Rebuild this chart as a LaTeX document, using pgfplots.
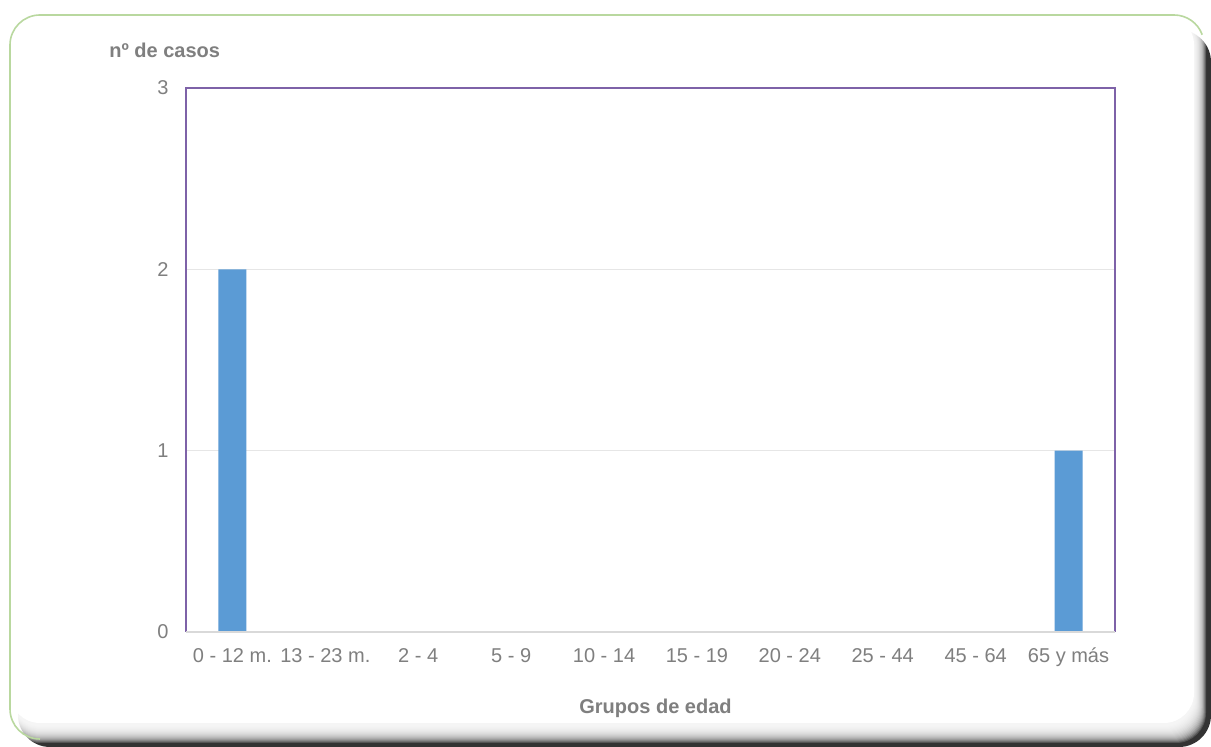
\documentclass[border=0pt]{standalone}
\usepackage{fontspec}
\setmainfont{Liberation Sans}
\usepackage{pgfplots}
\pgfplotsset{compat=1.18}

\definecolor{barblue}{HTML}{5B9BD5}
\definecolor{txtgray}{HTML}{7F7F7F}
\definecolor{framepurple}{HTML}{7E62A8}
\definecolor{gridgray}{HTML}{E6E6E6}
\definecolor{basegray}{HTML}{D9D9D9}
\definecolor{cardgreen}{HTML}{B9D89F}
\definecolor{shadowdark}{HTML}{333333}

\begin{document}
\begin{tikzpicture}
  \useasboundingbox (0,0) rectangle (605.5pt,373.5pt);
  \fill[white] (0,0) rectangle (605.5pt,373.5pt);

  % card with a soft dark shadow along its right and bottom edges
  \begin{scope}[x=0.5pt,y=0.5pt]
    \fill[shadowdark, rounded corners=16pt] (18,0) rectangle (1211,717);
    \foreach \k in {0,...,17}{
      \fill[white, opacity=0.17, rounded corners=15pt]
        (10,4+1.0*\k) rectangle (1206-0.7*\k,732);
    }
    \fill[white, rounded corners=15pt] (10,24) rectangle (1194,732);
    \draw[cardgreen, line width=0.8pt]
      (40,8) arc[start angle=270, end angle=180, radius=30]
      -- (10,702) arc[start angle=180, end angle=90, radius=30]
      -- (1174,732) arc[start angle=90, end angle=20, radius=30];
  \end{scope}

  \begin{axis}[
    at={(93pt,57.5pt)}, anchor=south west,
    scale only axis,
    width=464.5pt, height=272pt,
    xmin=-0.5, xmax=9.5,
    ymin=0, ymax=3,
    ytick={0,1,2,3},
    xtick={0,...,9},
    xticklabels={0 - 12 m.,13 - 23 m.,2 - 4,5 - 9,10 - 14,15 - 19,20 - 24,25 - 44,45 - 64,65 y más},
    major tick length=0pt,
    axis line style={draw=none},
    ymajorgrids,
    grid style={gridgray, line width=0.6pt},
    tick label style={font=\fontsize{10}{12}\selectfont, text=txtgray, inner sep=0pt},
    /pgf/number format/assume math mode=true,
    yticklabel style={anchor=east, xshift=-8.5pt},
    xticklabel style={anchor=base, yshift=-15.5pt},
    ybar, bar width=14pt,
    clip=false,
  ]
    \addplot[fill=barblue, draw=none] coordinates {
      (0,2) (1,0) (2,0) (3,0) (4,0) (5,0) (6,0) (7,0) (8,0) (9,1)
    };
    % plot frame: purple on three sides, grey base line
    \draw[framepurple, line width=0.75pt]
      (rel axis cs:0,0) -- (rel axis cs:0,1) -- (rel axis cs:1,1) -- (rel axis cs:1,0);
    \draw[basegray, line width=0.8pt] (rel axis cs:0,0) -- (rel axis cs:1,0);
  \end{axis}

  \node[anchor=base west, inner sep=0pt, text=txtgray,
        font=\fontsize{10}{12}\selectfont\bfseries] at (54.5pt,344.5pt) {nº de casos};
  \node[anchor=base, inner sep=0pt, text=txtgray,
        font=\fontsize{10}{12}\selectfont\bfseries] at (327.75pt,16.5pt) {Grupos de edad};
\end{tikzpicture}
\end{document}
